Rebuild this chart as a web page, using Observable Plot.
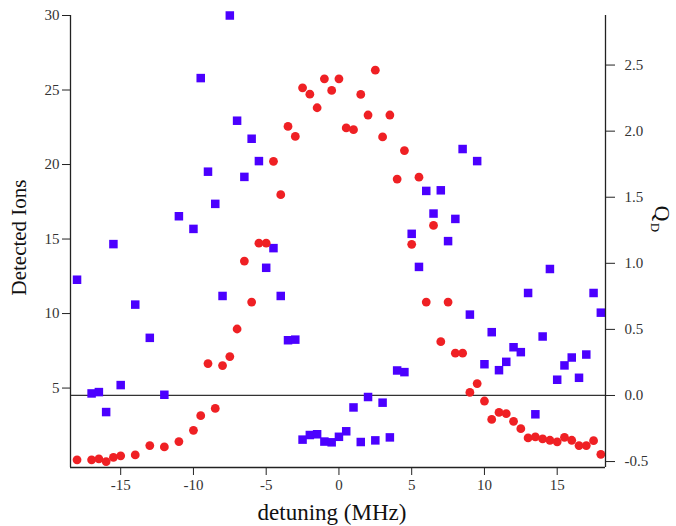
<!DOCTYPE html>
<html>
<head>
<meta charset="utf-8">
<script src="https://cdn.jsdelivr.net/npm/d3@7"></script>
<script src="https://cdn.jsdelivr.net/npm/@observablehq/plot@0.6"></script>
<style>
  html, body { margin: 0; padding: 0; background: #ffffff; }
</style>
</head>
<body>
<div id="chart"></div>
<script>
// detuning (MHz), shared by both series
const detuning = [-18,-17,-16.5,-16,-15.5,-15,-14,-13,-12,-11,-10,-9.5,-9,-8.5,-8,-7.5,-7,-6.5,-6,-5.5,-5,-4.5,-4,-3.5,-3,-2.5,-2,-1.5,-1,-0.5,0,0.5,1,1.5,2,2.5,3,3.5,4,4.5,5,5.5,6,6.5,7,7.5,8,8.5,9,9.5,10,10.5,11,11.5,12,12.5,13,13.5,14,14.5,15,15.5,16,16.5,17,17.5,18];

// Detected Ions (left axis, blue squares)
const ions = [12.27,4.64,4.73,3.39,14.66,5.2,10.6,8.37,4.55,16.53,15.68,25.8,19.52,17.36,11.18,30,22.94,19.17,21.73,20.23,13.07,14.39,11.18,8.21,8.25,1.54,1.85,1.9,1.41,1.36,1.73,2.1,3.7,1.38,4.4,1.49,4.02,1.69,6.18,6.07,15.35,13.13,18.23,16.71,18.27,14.86,16.35,21.04,9.93,20.23,6.6,8.75,6.2,6.76,7.74,7.41,11.38,3.24,8.46,12.99,5.56,6.52,7.05,5.69,7.25,11.38,10.06];

// Q_D (right axis, red circles)
const qd = [-0.487,-0.487,-0.48,-0.5,-0.468,-0.457,-0.45,-0.379,-0.389,-0.349,-0.264,-0.153,0.241,-0.098,0.226,0.294,0.503,1.017,0.707,1.152,1.152,1.772,1.519,2.036,1.96,2.328,2.28,2.177,2.396,2.308,2.396,2.024,2.011,2.278,2.122,2.461,1.956,2.122,1.637,1.853,1.144,1.652,0.707,1.287,0.407,0.707,0.32,0.32,0.023,0.09,-0.042,-0.181,-0.128,-0.138,-0.196,-0.251,-0.321,-0.314,-0.329,-0.339,-0.351,-0.317,-0.339,-0.379,-0.379,-0.342,-0.445];

// tick labels
const xTicks = [-15,-10,-5,0,5,10,15];
const xTickLabels = ["-15","-10","-5","0","5","10","15"];
const ionTicks = [5,10,15,20,25,30];
const ionTickLabels = ["5","10","15","20","25","30"];
const qdTicks = [-0.5,0,0.5,1,1.5,2,2.5];
const qdTickLabels = ["-0.5","0.0","0.5","1.0","1.5","2.0","2.5"];

// scale domains
const xDomain = [-18.45, 18.32];
const ionDomain = [-0.33, 30];
const qdDomain = [-0.545, 2.875];

// map Q_D values onto the left (ions) scale for the dual axis
const qToY = q => ionDomain[0] + (q - qdDomain[0]) / (qdDomain[1] - qdDomain[0]) * (ionDomain[1] - ionDomain[0]);

const ionData = detuning.map((x, i) => ({x, y: ions[i]}));
const qdData = detuning.map((x, i) => ({x, y: qToY(qd[i])}));

const font = "'Liberation Serif', 'Times New Roman', serif";
const axisColor = "#222";

const chart = Plot.plot({
  width: 676,
  height: 526,
  marginLeft: 70,
  marginRight: 71,
  marginTop: 15,
  marginBottom: 59,
  x: {domain: xDomain},
  y: {domain: ionDomain},
  style: {fontFamily: font, fontSize: "15px", color: "#333", background: "#ffffff"},
  marks: [
    Plot.ruleY([qToY(0)], {stroke: "#333", strokeWidth: 1.2}),
    Plot.dot(ionData, {x: "x", y: "y", symbol: "square", r: 4.8, fill: "#4b00ff", stroke: "none"}),
    Plot.dot(qdData, {x: "x", y: "y", symbol: "circle", r: 4.4, fill: "#ef2024", stroke: "none"}),
    Plot.ruleX([xDomain[0]], {stroke: axisColor, strokeWidth: 1.3}),
    Plot.ruleX([xDomain[1]], {stroke: axisColor, strokeWidth: 1.3}),
    Plot.ruleY([ionDomain[0]], {stroke: axisColor, strokeWidth: 1.3}),
    Plot.axisX(xTicks, {tickSize: 8, tickPadding: 4, stroke: axisColor, fill: "#333",
      tickFormat: d => xTickLabels[xTicks.indexOf(d)], label: null}),
    Plot.axisY(ionTicks, {anchor: "left", tickSize: 8, tickPadding: 3, stroke: axisColor, fill: "#333",
      tickFormat: d => ionTickLabels[ionTicks.indexOf(d)], label: null}),
    Plot.axisY(qdTicks.map(qToY), {anchor: "right", tickSize: 9, tickPadding: 10, stroke: axisColor, fill: "#333",
      tickFormat: (d) => {
        const i = qdTicks.findIndex(q => Math.abs(qToY(q) - d) < 1e-9);
        return qdTickLabels[i];
      }, label: null}),
    Plot.text(["Detected Ions"], {frameAnchor: "left", dx: -51, dy: -4, rotate: -90,
      textAnchor: "middle", lineAnchor: "middle", fontSize: 21, fill: "#111"}),
    Plot.text(["detuning (MHz)"], {frameAnchor: "bottom", dx: -6, dy: 45,
      textAnchor: "middle", lineAnchor: "middle", fontSize: 23, fill: "#111"}),
    Plot.text(["Q"], {frameAnchor: "right", dx: 57, dy: -28, rotate: 90,
      textAnchor: "middle", lineAnchor: "middle", fontSize: 22, fill: "#111"}),
    Plot.text(["D"], {frameAnchor: "right", dx: 50, dy: -14, rotate: 90,
      textAnchor: "middle", lineAnchor: "middle", fontSize: 13, fill: "#111"})
  ]
});
document.getElementById("chart").appendChild(chart);
</script>
</body>
</html>
